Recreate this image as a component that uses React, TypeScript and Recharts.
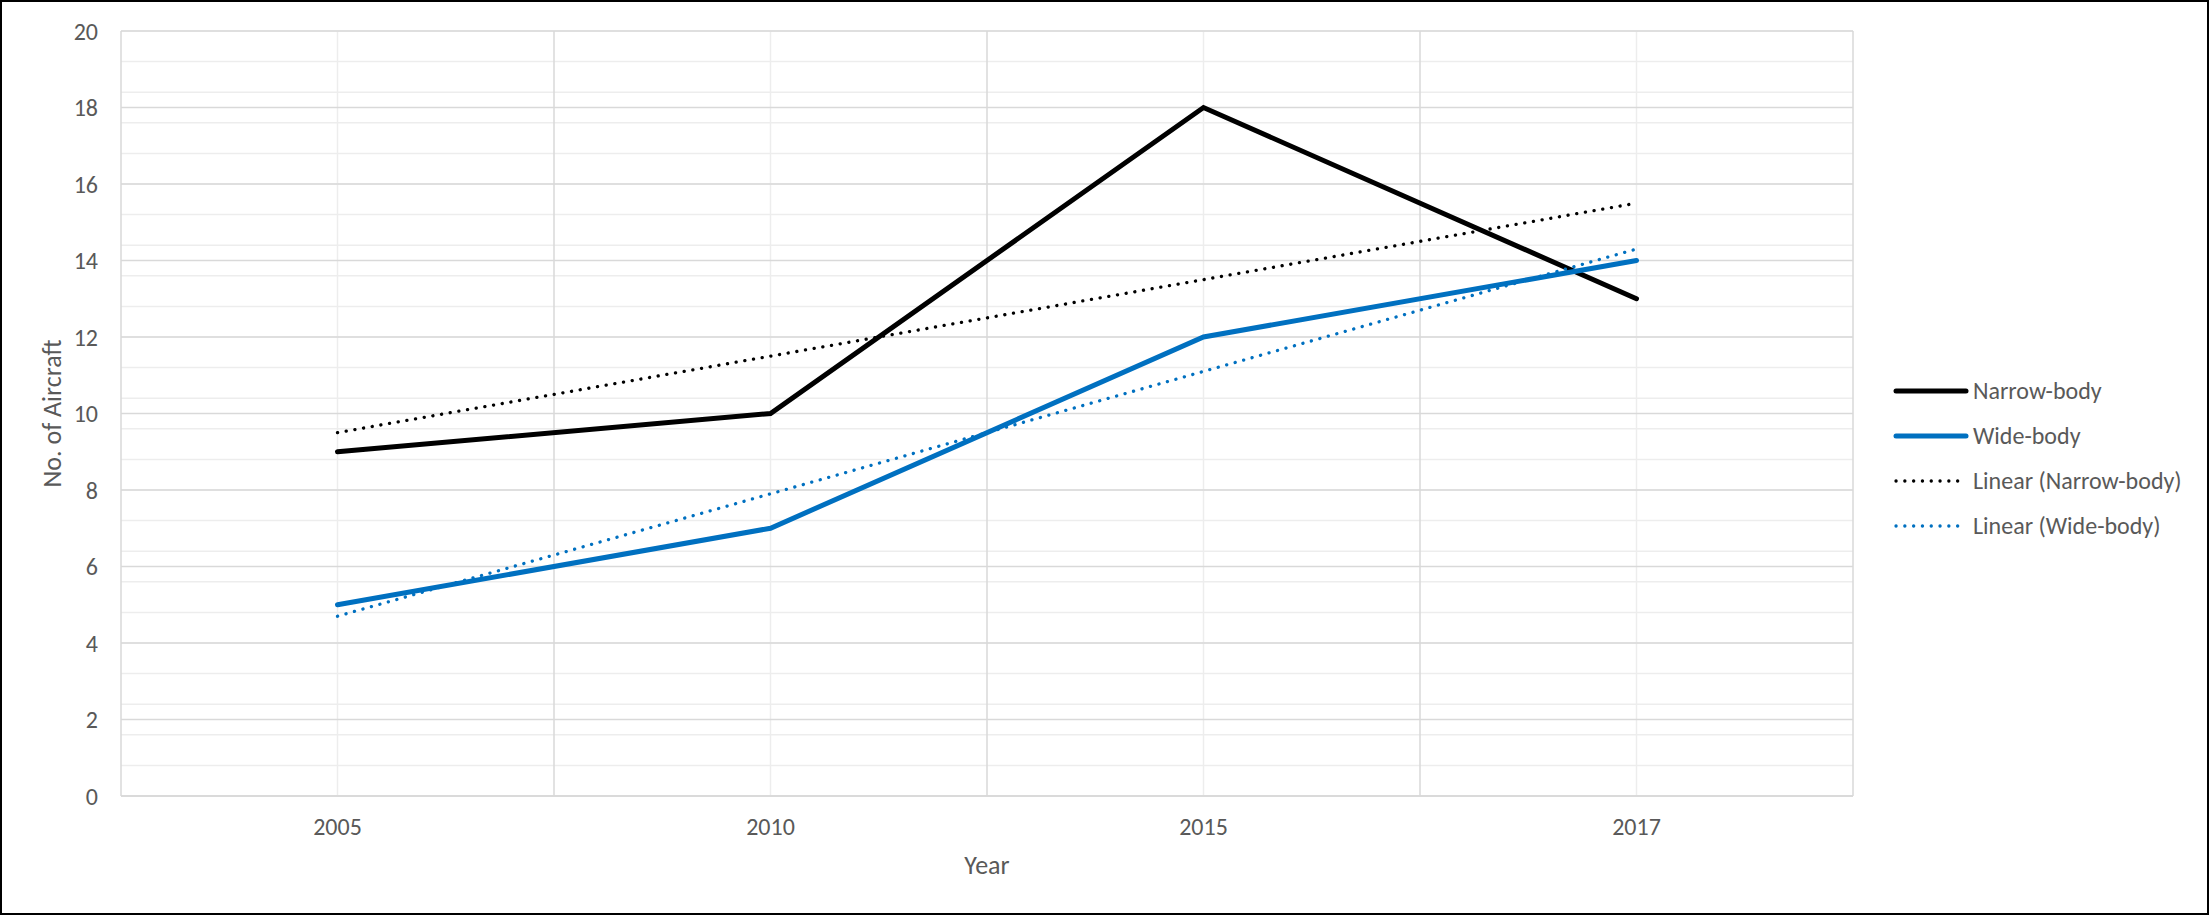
import React from "react";
import { LineChart, Line, XAxis, YAxis, CartesianGrid } from "recharts";

const years = ["2005", "2010", "2015", "2017"];
const narrowBody = [9, 10, 18, 13];
const wideBody = [5, 7, 12, 14];
const narrowTrend = [9.5, 11.5, 13.5, 15.5];
const wideTrend = [4.7, 7.9, 11.1, 14.3];

const yTicks = [0, 2, 4, 6, 8, 10, 12, 14, 16, 18, 20];
// light gridlines every 0.4, dark ones every 2
const yMinorTicks = Array.from({ length: 51 }, (_, i) => Math.round(i * 4) / 10);
// category centres and the band edges between them
const xCenters = years.map((_, i) => i);
const xEdges = [-0.5, 0.5, 1.5, 2.5, 3.5];

const data = years.map((year, i) => ({
  idx: i,
  year,
  narrow: narrowBody[i],
  wide: wideBody[i],
  narrowTrend: narrowTrend[i],
  wideTrend: wideTrend[i],
}));

const FONT = "Calibri, Carlito, Lato, sans-serif";
const TEXT = "#595959";
const BLACK = "#000000";
const BLUE = "#0070C0";

const legendItems = [
  { name: "Narrow-body", color: BLACK, dotted: false },
  { name: "Wide-body", color: BLUE, dotted: false },
  { name: "Linear (Narrow-body)", color: BLACK, dotted: true },
  { name: "Linear (Wide-body)", color: BLUE, dotted: true },
];

function LegendBox() {
  return (
    <div
      style={{
        position: "absolute",
        left: 1891,
        top: 366,
        fontFamily: FONT,
        fontSize: 24,
        color: TEXT,
      }}
    >
      {legendItems.map((item) => (
        <div
          key={item.name}
          style={{ display: "flex", alignItems: "center", height: 45, whiteSpace: "nowrap" }}
        >
          <svg width={76} height={10}>
            <line
              x1={3}
              x2={73}
              y1={5}
              y2={5}
              stroke={item.color}
              strokeWidth={item.dotted ? 3.3 : 5}
              strokeDasharray={item.dotted ? "0.1 8.7" : undefined}
              strokeLinecap="round"
            />
          </svg>
          <span style={{ marginLeft: 4 }}>{item.name}</span>
        </div>
      ))}
    </div>
  );
}

function YTitle(props: any) {
  const { viewBox } = props;
  const x = viewBox.x + viewBox.width - 69;
  const y = viewBox.y + viewBox.height / 2;
  return (
    <text
      x={x}
      y={y}
      transform={`rotate(-90, ${x}, ${y})`}
      textAnchor="middle"
      dominantBaseline="central"
      fontFamily={FONT}
      fontSize={26}
      fill={TEXT}
    >
      No. of Aircraft
    </text>
  );
}

function XTitle(props: any) {
  const { viewBox } = props;
  return (
    <text
      x={viewBox.x + viewBox.width / 2}
      y={viewBox.y + 69}
      textAnchor="middle"
      dominantBaseline="central"
      fontFamily={FONT}
      fontSize={26}
      fill={TEXT}
    >
      Year
    </text>
  );
}

export default function App() {
  const tickStyle = { fill: TEXT, fontSize: 24, fontFamily: FONT };
  return (
    <div
      style={{
        position: "absolute",
        left: 0,
        top: 0,
        width: 2209,
        height: 915,
        boxSizing: "border-box",
        border: "2px solid #000",
        background: "#fff",
      }}
    >
      <LineChart
        width={2205}
        height={911}
        data={data}
        margin={{ top: 29, right: 354, left: 59, bottom: 77 }}
      >
        <CartesianGrid
          verticalValues={xCenters}
          horizontalValues={yMinorTicks}
          stroke="#ededed"
          strokeWidth={1.5}
        />
        <CartesianGrid
          verticalValues={xEdges}
          horizontalValues={yTicks}
          stroke="#d9d9d9"
          strokeWidth={1.5}
        />
        <XAxis
          dataKey="idx"
          type="number"
          domain={[-0.5, 3.5]}
          ticks={xCenters}
          tickFormatter={(v: number) => years[v] ?? ""}
          tick={tickStyle}
          tickLine={false}
          tickSize={0}
          tickMargin={22}
          axisLine={{ stroke: "#d9d9d9", strokeWidth: 1.5 }}
          height={40}
          label={{ content: XTitle }}
        />
        <YAxis
          type="number"
          domain={[0, 20]}
          ticks={yTicks}
          tick={tickStyle}
          tickLine={false}
          tickSize={0}
          tickMargin={23}
          axisLine={false}
          width={60}
          label={{ content: YTitle }}
        />

        <Line
          type="linear"
          dataKey="narrow"
          name="Narrow-body"
          stroke={BLACK}
          strokeWidth={5}
          strokeLinecap="round"
          dot={false}
          isAnimationActive={false}
        />
        <Line
          type="linear"
          dataKey="wide"
          name="Wide-body"
          stroke={BLUE}
          strokeWidth={5}
          strokeLinecap="round"
          dot={false}
          isAnimationActive={false}
        />
        <Line
          type="linear"
          dataKey="narrowTrend"
          name="Linear (Narrow-body)"
          stroke={BLACK}
          strokeWidth={3.3}
          strokeDasharray="0.1 8.7"
          strokeLinecap="round"
          dot={false}
          isAnimationActive={false}
        />
        <Line
          type="linear"
          dataKey="wideTrend"
          name="Linear (Wide-body)"
          stroke={BLUE}
          strokeWidth={3.3}
          strokeDasharray="0.1 8.7"
          strokeLinecap="round"
          dot={false}
          isAnimationActive={false}
        />
      </LineChart>
      <LegendBox />
    </div>
  );
}
